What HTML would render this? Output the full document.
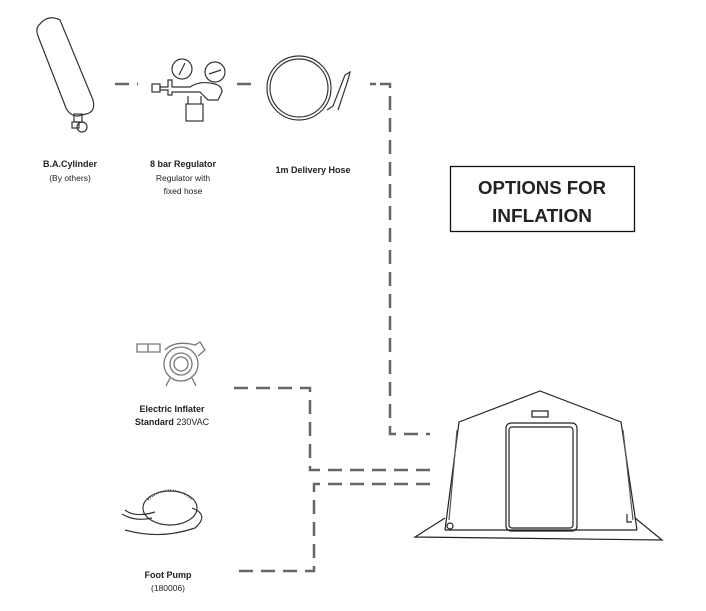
<!DOCTYPE html>
<html><head><meta charset="utf-8"><style>
body{margin:0;background:#fff;}
svg{display:block;}
text{font-family:"Liberation Sans",Arial,sans-serif;fill:#222;}
</style></head><body>
<svg width="706" height="611" viewBox="0 0 706 611" xmlns="http://www.w3.org/2000/svg">
<g fill="none" stroke="#666" stroke-width="2.5" stroke-dasharray="14,8">
<path d="M115 84 H138"/>
<path d="M237 84 H258"/>
<path d="M370 84 H390 V434 H430" stroke-dasharray="6,4,14,8,14,8,14,8,14,8,14,8,14,8,14,8,14,8,14,8,14,8,14,8,14,8,14,8,14,8,14,8,14,8,14,8,14,8,14,8,14,8,14,8"/>
<path d="M234 388 H310 V470 H430"/>
<path d="M430 484 H314 V571 H236"/>
</g>
<!-- cylinder -->
<g fill="none" stroke="#333" stroke-width="1.2">
<path d="M40 24 Q48 14 60 20 L93 100 Q96 112 86 114 L78 116 Q70 116 66 108 L38 36 Q35 28 40 24Z"/>
<rect x="74" y="114" width="8" height="8"/>
<circle cx="82" cy="127" r="5"/>
<rect x="72" y="122" width="7" height="6"/>
</g>
<!-- regulator -->
<g fill="none" stroke="#333" stroke-width="1.2">
<circle cx="182" cy="69" r="10"/><path d="M179 75 L185 63"/>
<circle cx="215" cy="72" r="10"/><path d="M209 74 L221 70"/>
<path d="M160 87 H168 V80 H172 V87 H190 Q200 80 215 84 Q222 86 222 92 L218 100 H208 L200 92 H172 V95 H168 V90 H160Z"/>
<rect x="152" y="84" width="8" height="8"/>
<rect x="186" y="104" width="17" height="17"/>
<path d="M188 96 V104 M201 96 V104"/>
</g>
<!-- hose -->
<g fill="none" stroke="#333" stroke-width="1.2">
<circle cx="299" cy="88" r="32"/><circle cx="299" cy="88" r="29"/>
<path d="M327 110 L333 106 L345 75 L350 72 L348 80 L338 110"/>
</g>
<text x="70" y="167" font-size="9" font-weight="bold" text-anchor="middle">B.A.Cylinder</text>
<text x="70" y="181" font-size="8.5" text-anchor="middle" fill="#444">(By others)</text>
<text x="183" y="167" font-size="9" font-weight="bold" text-anchor="middle">8 bar Regulator</text>
<text x="183" y="181" font-size="8.5" text-anchor="middle" fill="#444">Regulator with</text>
<text x="183" y="194" font-size="8.5" text-anchor="middle" fill="#444">fixed hose</text>
<text x="313" y="173" font-size="9" font-weight="bold" text-anchor="middle">1m Delivery Hose</text>
<rect x="450.5" y="166.5" width="184" height="65" fill="none" stroke="#111" stroke-width="1.3"/>
<text x="542" y="194" font-size="18" font-weight="bold" text-anchor="middle" fill="#111" textLength="128" lengthAdjust="spacingAndGlyphs">OPTIONS FOR</text>
<text x="542" y="222" font-size="18" font-weight="bold" text-anchor="middle" fill="#111" textLength="100" lengthAdjust="spacingAndGlyphs">INFLATION</text>
<!-- inflater -->
<g fill="none" stroke="#777" stroke-width="1.3">
<circle cx="181" cy="364" r="17"/><circle cx="181" cy="364" r="11"/><circle cx="181" cy="364" r="7"/>
<path d="M137 344 H160 V352 H137Z M148 344 V352"/>
<path d="M165 350 Q175 340 195 345 L200 342 L205 350 L198 356"/>
<path d="M170 378 L166 386 M192 378 L196 386"/>
</g>
<text x="172" y="412" font-size="9" font-weight="bold" text-anchor="middle">Electric Inflater</text>
<text x="172" y="425" font-size="9" text-anchor="middle"><tspan font-weight="bold">Standard</tspan> 230VAC</text>
<!-- foot pump -->
<g fill="none" stroke="#333" stroke-width="1.2">
<ellipse cx="170" cy="508" rx="27" ry="17"/>
<path d="M148 500 Q170 480 192 500" stroke-dasharray="1,1.5"/>
<path d="M155 512 Q135 518 125 510 M152 518 Q135 522 122 514"/>
<path d="M192 508 Q210 515 195 528 Q160 540 125 530"/>
</g>
<text x="168" y="578" font-size="9" font-weight="bold" text-anchor="middle">Foot Pump</text>
<text x="168" y="591" font-size="8.5" text-anchor="middle" fill="#444">(180006)</text>
<!-- tent -->
<g fill="none" stroke="#222" stroke-width="1.2">
<path d="M445 530 L459 422 L540 391 L621 422 L637 530"/>
<path d="M449 520 L457 430 M633 520 L623 430" stroke="#555"/>
<path d="M445 518 L415 537 L662 540 L635 518"/>
<path d="M445 530 H637"/>
<rect x="532" y="411" width="16" height="6"/>
<rect x="506" y="423" width="71" height="108" rx="5"/>
<rect x="509" y="427" width="64" height="101" rx="3"/>
<circle cx="450" cy="526" r="3"/>
<path d="M627 514 V522 H632"/>
</g>
</svg>
</body></html>
